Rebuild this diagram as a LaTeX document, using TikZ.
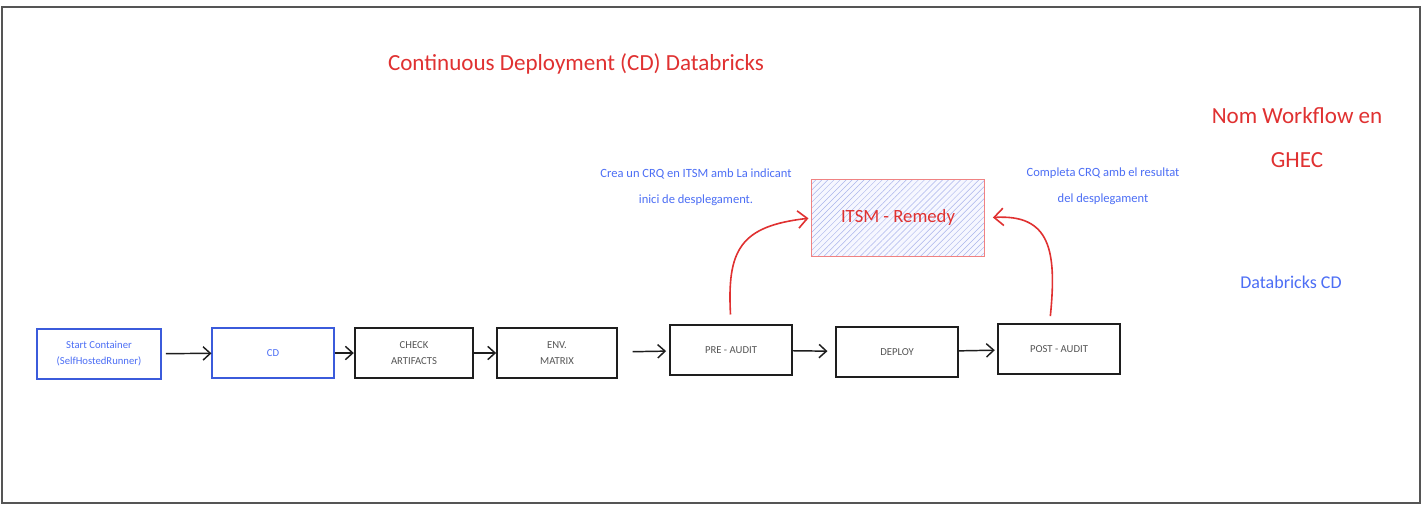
\documentclass[tikz,border=0pt]{standalone}
\usepackage{fontspec}
\setmainfont{Carlito}
\usetikzlibrary{arrows.meta,patterns.meta}

\tikzset{every picture/.style={line width=0.75pt}}
\tikzset{
	stepbox/.style={draw={rgb, 255:red, 30; green, 30; blue, 30}, line width=1.3pt, minimum width=91pt, minimum height=38pt, align=center, font=\fontsize{8}{12}\selectfont, text={rgb, 255:red, 85; green, 85; blue, 85}},
	bluebox/.style={stepbox, draw={rgb, 255:red, 59; green, 91; blue, 219}, text={rgb, 255:red, 76; green, 110; blue, 245}},
	itsmbox/.style={draw={rgb, 255:red, 240; green, 130; blue, 130}, line width=0.9pt, minimum width=130pt, minimum height=58pt, preaction={fill={rgb, 255:red, 246; green, 247; blue, 255}}, pattern={Lines[angle=45, distance=3.2pt, line width=0.35pt]}, pattern color={rgb, 255:red, 170; green, 180; blue, 235}, font=\fontsize{14}{17}\selectfont, text={rgb, 255:red, 224; green, 49; blue, 49}},
	arr/.style={-{Straight Barb[length=5.5pt, width=10pt]}, line width=1.1pt, color={rgb, 255:red, 30; green, 30; blue, 30}},
	redarr/.style={-{Straight Barb[length=7pt, width=13pt]}, line width=1.2pt, color={rgb, 255:red, 224; green, 49; blue, 49}},
	redtxt/.style={font=\fontsize{17.3}{33}\selectfont, align=center, text={rgb, 255:red, 224; green, 49; blue, 49}},
	bluetxt/.style={font=\fontsize{13.5}{16}\selectfont, text={rgb, 255:red, 76; green, 110; blue, 245}},
	notetxt/.style={font=\fontsize{9.4}{19.5}\selectfont, align=center, text={rgb, 255:red, 76; green, 110; blue, 245}}}

\begin{document}
\begin{tikzpicture}[x=0.75pt,y=0.75pt,yscale=-1,xscale=1]
	\fill [white] (0,0) rectangle (1426,507);
	\useasboundingbox (0,0) rectangle (1426,507);

	%Shape: Rectangle [id:frame] 
	\draw [color={rgb, 255:red, 85; green, 85; blue, 85 }, line width=1.5pt] (2,7) rectangle (1420,503);

	% Text Node
	\draw (576,64) node [redtxt] (title) {Continuous Deployment (CD) Databricks};
	% Text Node
	\draw (1297,138) node [redtxt] (wfname) {Nom Workflow en\\GHEC};
	% Text Node
	\draw (1291,282) node [bluetxt] (dbcd) {Databricks CD};
	% Text Node
	\draw (696,187) node [notetxt] (note1) {Crea un CRQ en ITSM amb La indicant\\inici de desplegament.};
	% Text Node
	\draw (1103,186) node [notetxt] (note2) {Completa CRQ amb el resultat\\del desplegament};

	%Shape: Rectangle [id:itsm] 
	\draw (898,218) node [itsmbox] (itsm) {ITSM - Remedy};

	%Shape: Rectangle [id:steps] 
	\draw (99,354) node [bluebox, minimum width=93pt] (start) {Start Container\\(SelfHostedRunner)};
	\draw (273,353) node [bluebox] (cd) {CD};
	\draw (414,353) node [stepbox, minimum width=89pt] (check) {CHECK\\ARTIFACTS};
	\draw (557,353) node [stepbox, minimum width=90pt] (env) {ENV.\\MATRIX};
	\draw (731,350) node [stepbox, minimum width=92pt] (pre) {PRE - AUDIT};
	\draw (897,352) node [stepbox] (deploy) {DEPLOY};
	\draw (1059,349) node [stepbox] (post) {POST - AUDIT};

	%Straight Lines [id:flow] 
	\draw [arr, shorten <=3pt] (start) -- (cd);
	\draw [arr] (cd) -- (check);
	\draw [arr] (check) -- (env);
	\draw [arr, shorten <=11pt, shorten >=2pt] (env) -- (pre);
	\draw [arr, shorten >=6pt] (pre) -- (deploy);
	\draw [arr, shorten >=2pt] (deploy) -- (post);

	%Curve Lines [id:audit] 
	\draw [redarr, shorten <=7pt, shorten >=2pt] (pre.north) .. controls (727,250) and (740,226) .. (itsm.west);
	\draw [redarr, shorten <=5pt, shorten >=6pt] ([xshift=-7pt]post.north) .. controls (1057,250) and (1050,214) .. (itsm.east);

\end{tikzpicture}
\end{document}
